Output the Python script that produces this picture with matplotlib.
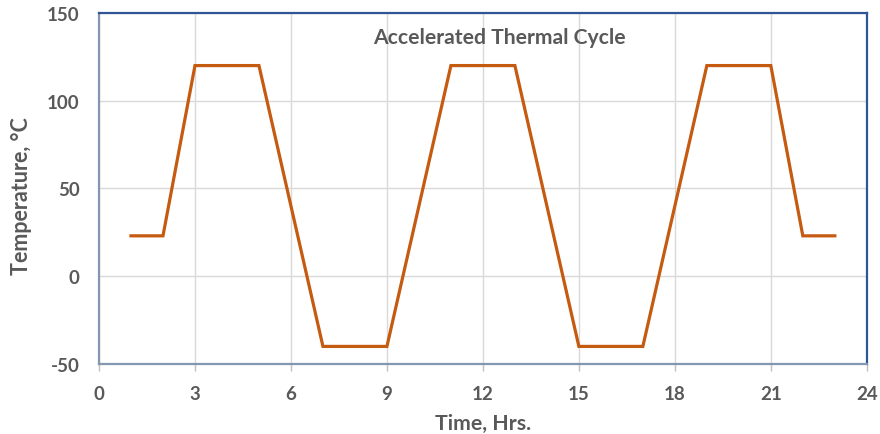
import matplotlib
matplotlib.use('Agg')
import matplotlib.pyplot as plt

# thermal cycle profile
hours = [1, 2, 3, 5, 7, 9, 11, 13, 15, 17, 19, 21, 22, 23]
temp_c = [23, 23, 120, 120, -40, -40, 120, 120, -40, -40, 120, 120, 23, 23]
x_ticks = [0, 3, 6, 9, 12, 15, 18, 21, 24]
y_ticks = [-50, 0, 50, 100, 150]

plt.rcParams['font.family'] = ['Lato', 'DejaVu Sans']
plt.rcParams['axes.unicode_minus'] = False
grey = '#595959'

fig = plt.figure(figsize=(8.8, 4.35), dpi=100)
ax = fig.add_axes([0.1125, 0.161, 0.8725, 0.807])

ax.plot(hours, temp_c, color='#C55A11', lw=2.3, solid_joinstyle='miter', zorder=3)

ax.set_xlim(0, 24)
ax.set_ylim(-50, 150)
ax.set_xticks(x_ticks)
ax.set_yticks(y_ticks)
ax.grid(True, color='#D9D9D9', lw=1)
ax.set_axisbelow(True)

for side in ('top', 'right'):
    ax.spines[side].set_color('#2F5597')
    ax.spines[side].set_linewidth(1.6)
for side in ('left', 'bottom'):
    ax.spines[side].set_color('#8497B0')
    ax.spines[side].set_linewidth(1.6)

ax.tick_params(axis='x', length=5, width=1, color='#BFBFBF', pad=10,
               labelsize=13.5, labelcolor=grey)
ax.tick_params(axis='y', length=0, pad=14, labelsize=13.5, labelcolor=grey)
for lbl in ax.get_xticklabels() + ax.get_yticklabels():
    lbl.set_fontweight('bold')

ax.set_xlabel('Time, Hrs.', fontsize=15.3, fontweight='bold', color=grey, labelpad=8)
ax.set_ylabel('Temperature, \u00b0C', fontsize=15.5, fontweight='bold', color=grey)
ax.yaxis.set_label_coords(-0.087, 0.48)
ax.text(0.522, 0.93, 'Accelerated Thermal Cycle', transform=ax.transAxes,
        ha='center', va='center', fontsize=15.2, fontweight='bold', color=grey)

fig.savefig('out.png', dpi=100)
